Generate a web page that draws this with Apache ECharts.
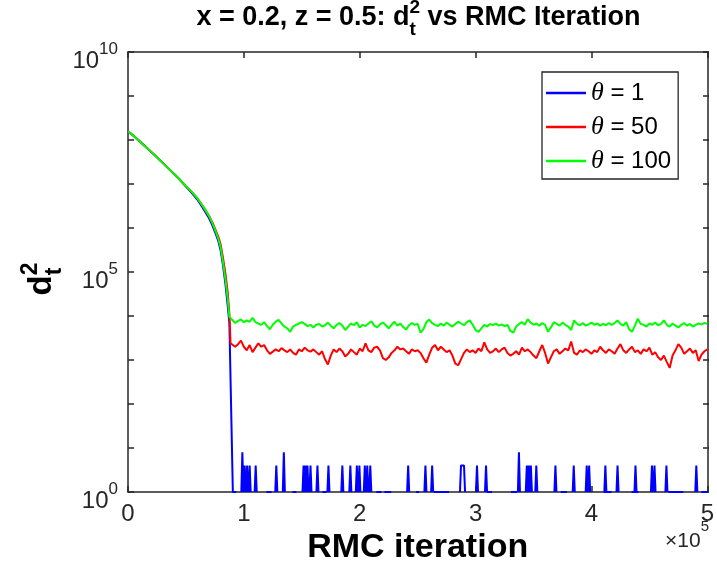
<!DOCTYPE html>
<html><head><meta charset="utf-8">
<script src="https://cdn.jsdelivr.net/npm/echarts@6/dist/echarts.min.js"></script>
<style>html,body{margin:0;padding:0;background:#fff}#c{width:717px;height:580px}</style>
</head><body><div id="c"></div>
<script>
// ---------------- data ----------------
const seriesNames = ['θ = 1', 'θ = 50', 'θ = 100'];
const xTickLabels = ['0', '1', '2', '3', '4', '5'];
const yTickExponents = [0, 5, 10];

// smooth decay phase (iteration, d_t^2)
const decayIter = [0,5000,10000,15000,20000,25000,30000,35000,40000,45000,50000,55000,60000,65000,70000,73000,76000,78000,80000,82000,84000,86000,87500];
const blueDecay  = [1.58e8,1.23e8,9.33e7,7.08e7,5.37e7,4.07e7,3.02e7,2.24e7,1.66e7,1.23e7,8.7e6,6.3e6,4.37e6,2.75e6,1.66e6,1.12e6,7.08e5,5.01e5,3.02e5,1.41e5,5.62e4,1.78e4,7080];
const redDecay   = [1.58e8,1.23e8,9.33e7,7.08e7,5.37e7,4.07e7,3.02e7,2.24e7,1.66e7,1.23e7,8.91e6,6.61e6,4.68e6,3.02e6,1.86e6,1.32e6,8.51e5,6.31e5,4.17e5,2.09e5,9.55e4,3.55e4,1.12e4];
const greenDecay = [1.58e8,1.23e8,9.33e7,7.08e7,5.37e7,4.07e7,3.02e7,2.24e7,1.66e7,1.23e7,8.91e6,6.61e6,4.68e6,3.02e6,1.86e6,1.26e6,7.94e5,5.62e5,3.55e5,1.66e5,7.08e4,2.51e4,9550];
const blueLandIter = [90500], blueLandVal = [1];
const redLandIter = [88500],  redLandVal = [2400];

// plateau phase sampled every 2500 iterations from 90000 to 500000
const plateauStart = 90000, plateauStep = 2500;
const greenPlateau = [
8130,6920,7760,8320,7240,7940,7410,9120,7240,6760,
6310,7240,5890,5010,6310,7410,8130,6760,5750,5250,
4370,5750,6310,6760,7240,6610,5890,6310,5500,6310,
6610,5750,6170,7080,6030,
5250,6310,6920,6030,4790,5750,6760,6170,7240,5500,
6310,5890,6760,7590,6030,5500,6460,7080,6170,5250,
6310,7410,6030,6760,5620,4900,6170,6920,6310,
6610,4170,5010,7240,8320,6920,6310,5890,6760,6030,
7080,6310,5750,6610,7410,6760,6170,7240,7940,6310,
4790,4370,5250,6310,5750,6610,6170,6760,6030,6460,
5890,6310,4570,
4170,5750,6610,7240,6310,8510,7080,6310,6760,6030,
6920,6310,4370,5500,7240,6610,6030,7080,6310,5750,
4790,7940,6610,6170,6920,6030,6460,7080,6310,6760,
6030,6610,6170,6920,
6310,6920,7940,6610,6030,7240,5010,4370,6030,8710,
6610,6310,5750,6760,6310,7080,6170,6610,7940,6310,
5750,6760,6030,5500,6310,6920,6030,6610,5750,6310,
6760,6460,6920,6610];
const redPlateau = [
2630,2000,2290,2750,2000,1660,2190,1510,1910,2400,
2000,2190,1660,1380,1550,1740,1580,1860,1660,1510,
1740,1450,1320,1740,1580,1910,1660,1550,1740,1510,
1320,1580,1050,790,1260,
1740,1510,1820,1580,1200,1380,1740,1510,1320,1820,
1580,2400,1660,1510,1910,2000,1660,1100,1000,1150,
1450,1660,2000,1740,1820,1580,1380,1740,1580,
1660,1450,1100,870,1320,1910,2190,1660,2000,1740,
1510,1660,1260,830,760,1050,1450,1740,1510,1660,
1450,1820,1580,2510,1740,1450,1580,1820,1510,1740,
1910,1450,1260,
1380,1580,1320,1910,1580,1740,1510,1260,1100,1580,
2190,1450,830,1150,1580,1740,1380,1580,1820,1660,
2630,1450,1320,1660,1510,1740,1580,1380,1660,1510,
2000,1660,1450,1740,
1580,1380,1820,2290,1660,1450,1740,2000,1510,1660,
1380,1740,1580,1910,1320,1510,1150,1000,1260,910,
660,1260,1660,2290,1910,1380,1580,1820,1450,1660,
950,1320,1580,1740];

// blue (θ = 1): sparse excursions above d^2 = 1 (gaps where d^2 = 0)
const blueSpikeIter = [98700,100700,102800,105000,110200,128000,134500,151500,153200,154900,157500,163500,173000,185000,191900,197500,199700,204400,206500,209100,241800,256700,262500,287400,301200,309000,337400,344200,346000,347700,352400,368900,384700,395900,398000,412000,422500,438000,452200,454400,464700,490500];
const blueSpikeVal  = [8,4,4,4,4,4,8,4,4,4,4,4,4,4,4,4,4,4,4,4,4,4,4,4,4,4,8,4,4,4,4,4,4,4,4,4,4,4,4,4,4,4];
const blueSpikeTop  = [0,0,0,0,0,0,0,0,0,0,0,0,0,0,0,0,0,0,0,0,0,0,0,2600,0,0,0,0,0,0,0,0,0,0,0,0,0,0,0,0,0,0];
const blueBaseStart = [90500,119600,142000,167800,214300,221200,248700,264000,309800,330500,373500,410500,434600,466400,494800];
const blueBaseEnd   = [93500,123900,145400,171300,218600,227200,251300,277100,314100,335600,378700,417400,440600,479300,500000];

// ---------------- build series data ----------------
function pairs(xs, ys){ return xs.map((x,i)=>[x, ys[i]]); }
const plateauIter = greenPlateau.map((_, i) => plateauStart + i*plateauStep);
const greenData = pairs(decayIter, greenDecay).concat(pairs(plateauIter, greenPlateau));
const redData = pairs(decayIter, redDecay).concat(pairs(redLandIter, redLandVal), pairs(plateauIter, redPlateau));
const blueData = pairs(decayIter, blueDecay).concat(pairs(blueLandIter, blueLandVal));
const HW = 900;
blueBaseStart.forEach((s,i)=>{ blueData.push([s,1],[blueBaseEnd[i],1],[blueBaseEnd[i],'-']); });
blueSpikeIter.forEach((s,i)=>{
  const e = s + blueSpikeTop[i];
  blueData.push([s-HW,1],[s,blueSpikeVal[i]],[e,blueSpikeVal[i]],[e+HW,1],[e+HW,'-']);
});

// ---------------- chart ----------------
const FONT = '"Liberation Sans", Arial, sans-serif';
const AX = '#262626';
const G = {left:128, top:52, width:581, height:440};
const ctx = document.createElement('canvas').getContext('2d');
function tw(t, size, bold){ ctx.font = (bold?'bold ':'') + size + 'px "Liberation Sans"'; return ctx.measureText(t).width; }

// title pieces
const T1 = 'x = 0.2, z = 0.5: d', T2 = ' vs RMC Iteration';
const TS = 27, TSS = 19;
const w1 = tw(T1,TS,true), wS = Math.max(tw('2',TSS,true), tw('t',TSS,true)), w2 = tw(T2,TS,true);
const tx0 = G.left + G.width/2 - (w1+wS+w2)/2;
function txt(text, x, y, size, bold, color){
  return {type:'text', x:x, y:y, silent:true, style:{text:text, fontSize:size, fontFamily:FONT, fontWeight:bold?'bold':'normal', fill:color||'#000', align:'left', verticalAlign:'middle'}};
}
// y label pieces
const YS = 33, YSS = 23;
const wd = tw('d',YS,true), wys = Math.max(tw('2',YSS,true), tw('t',YSS,true));
const ylx0 = -(wd+wys)/2;
// exponent label pieces
const ES = 21, ESS = 15;
const wx = tw('×10',ES,false), w5 = tw('5',ESS,false);
const ex0 = G.left + G.width - wx - w5;

const lineAxis = {show:true, onZero:false, lineStyle:{color:AX, width:1.5}};
const tickIn = {show:true, inside:true, length:6, lineStyle:{color:AX, width:1.5}};

const option = {
  animation:false,
  backgroundColor:'#fff',
  grid:[Object.assign({}, G), Object.assign({}, G)],
  xAxis:[
    {gridIndex:0, type:'value', position:'bottom', min:0, max:500000, interval:100000,
     axisLine:lineAxis, axisTick:tickIn, splitLine:{show:false},
     axisLabel:{formatter:(v)=>xTickLabels[Math.round(v/100000)], fontFamily:FONT, fontSize:24, color:AX, margin:10},
     name:'RMC iteration', nameLocation:'middle', nameGap:39,
     nameTextStyle:{fontFamily:FONT, fontWeight:'bold', fontSize:34, color:'#000'}},
    {gridIndex:0, type:'value', position:'top', min:0, max:500000, interval:100000,
     axisLine:lineAxis, axisTick:tickIn, splitLine:{show:false}, axisLabel:{show:false}},
    {gridIndex:1, type:'value', min:0, max:500000, show:false}
  ],
  yAxis:[
    {gridIndex:0, type:'log', logBase:100000, min:1, max:1e10, position:'left',
     axisLine:lineAxis, axisTick:{show:false}, splitLine:{show:false}, minorTick:{show:false},
     axisLabel:{margin:10, color:AX, padding:[10,0,0,0],
       formatter:(v)=>{ const e = yTickExponents[Math.round(Math.log10(v)/5)]; return '{b|10}{s|' + e + '}'; },
       rich:{ b:{fontFamily:FONT, fontSize:24, color:AX, verticalAlign:'bottom'},
              s:{fontFamily:FONT, fontSize:17, color:AX, verticalAlign:'top', padding:[0,0,16,0]} } }},
    {gridIndex:0, type:'log', logBase:100000, min:1, max:1e10, position:'right',
     axisLine:lineAxis, axisTick:{show:false}, splitLine:{show:false}, axisLabel:{show:false}},
    {gridIndex:1, type:'value', min:0, max:10, interval:1, position:'left',
     axisLine:{show:false}, axisTick:tickIn, axisLabel:{show:false}, splitLine:{show:false}},
    {gridIndex:1, type:'value', min:0, max:10, interval:1, position:'right',
     axisLine:{show:false}, axisTick:tickIn, axisLabel:{show:false}, splitLine:{show:false}}
  ],
  legend:{
    orient:'vertical', left:542, top:72, padding:[8,7,5,4], itemGap:8, itemWidth:40, itemHeight:2.5,
    icon:'rect',
    borderColor:AX, borderWidth:1.3, backgroundColor:'#fff', selectedMode:false,
    data:seriesNames,
    formatter:(n)=>n.replace('θ','{th|θ}'),
    textStyle:{fontFamily:FONT, fontSize:24, color:'#000', lineHeight:26,
      rich:{th:{fontFamily:'"Liberation Serif", serif', fontStyle:'italic', fontSize:26, color:'#000', lineHeight:26}}}
  },
  series:[
    {name:seriesNames[0], type:'line', xAxisIndex:0, yAxisIndex:0, data:blueData, symbol:'none', showSymbol:false,
     lineStyle:{color:'#0000ff', width:2}, itemStyle:{color:'#0000ff'}, clip:true},
    {name:seriesNames[1], type:'line', xAxisIndex:0, yAxisIndex:0, data:redData, symbol:'none', showSymbol:false,
     lineStyle:{color:'#ff0000', width:2}, itemStyle:{color:'#ff0000'}, clip:true},
    {name:seriesNames[2], type:'line', xAxisIndex:0, yAxisIndex:0, data:greenData, symbol:'none', showSymbol:false,
     lineStyle:{color:'#00ff00', width:2}, itemStyle:{color:'#00ff00'}, clip:true}
  ],
  graphic:[
    txt(T1, tx0, 18, TS, true),
    txt('2', tx0+w1, 8, TSS, true),
    txt('t', tx0+w1, 30, TSS, true),
    txt(T2, tx0+w1+wS, 18, TS, true),
    {type:'group', x:42, y:279, rotation:Math.PI/2, silent:true, children:[
      txt('d', ylx0, 0, YS, true),
      txt('2', ylx0+wd, -11, YSS, true),
      txt('t', ylx0+wd, 13, YSS, true)
    ]},
    txt('×10', ex0, 541, ES, false, AX),
    txt('5', ex0 + wx, 527, ESS, false, AX)
  ]
};
const chart = echarts.init(document.getElementById('c'), null, {renderer:'canvas'});
chart.setOption(option);
</script></body></html>
